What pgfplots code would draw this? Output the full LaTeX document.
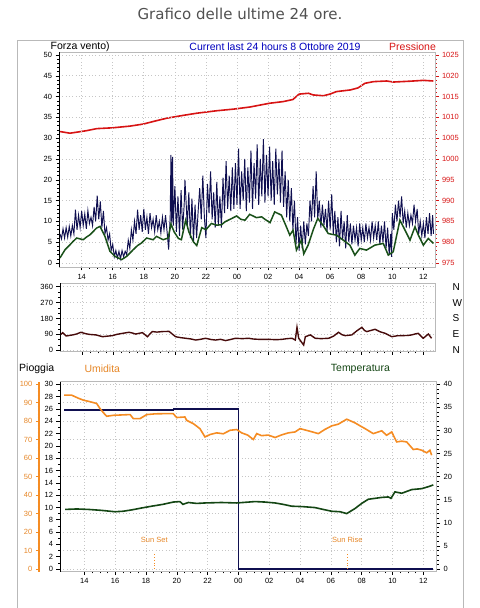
\documentclass[border=0pt]{standalone}
\usepackage{fontspec}
\setmainfont{Liberation Sans}
\newfontfamily\titlefont{DejaVu Sans}
\usepackage{pgfplots}
\pgfplotsset{compat=1.18}
\definecolor{gustc}{RGB}{15,15,80}
\definecolor{avgc}{RGB}{25,80,25}
\definecolor{presc}{RGB}{215,20,20}
\definecolor{dirc}{RGB}{70,10,10}
\definecolor{humc}{RGB}{245,140,35}
\definecolor{humlab}{RGB}{230,135,40}
\definecolor{tempc}{RGB}{20,70,20}
\definecolor{rainc}{RGB}{15,15,80}
\definecolor{titlegray}{RGB}{80,80,80}
\definecolor{curblue}{RGB}{0,0,190}
\pgfplotsset{
  panel/.style={scale only axis, anchor=south west,
    axis line style={gray!55, line width=0.6bp},
    tick style={black, line width=0.5bp},
    major tick length=3.5bp, minor tick length=1.8bp, tick align=outside,
    tick label style={font=\fontsize{7.5bp}{8bp}\selectfont},
    /pgf/number format/assume math mode=true,
    /pgf/number format/set thousands separator={},
    grid style={gray!45, dash pattern=on 0.7bp off 2.6bp, line width=0.6bp}},
  hours/.style={xtick={14,16,...,36}, xticklabels={14,16,18,20,22,00,02,04,06,08,10,12}, minor x tick num=3}
}
\begin{document}
\begin{tikzpicture}
\path[use as bounding box] (0bp,0bp) rectangle (480bp,608bp);
\draw[gray!55, line width=0.8bp] (17bp,568bp) rectangle (463bp,-5bp);
\node[font=\titlefont\fontsize{15bp}{17bp}\selectfont, text=titlegray] at (240bp,594bp) {Grafico delle ultime 24 ore.};
\node[font=\fontsize{10.5bp}{11bp}\selectfont, anchor=west, inner sep=0] at (50.5bp,561.5bp) {Forza vento)};
\node[font=\fontsize{10.5bp}{11bp}\selectfont, text=curblue, inner sep=0] at (275bp,561.5bp) {Current last 24 hours 8 Ottobre 2019};
\node[font=\fontsize{10.5bp}{11bp}\selectfont, text=presc, anchor=west, inner sep=0] at (389bp,561.5bp) {Pressione};
\node[font=\fontsize{10.5bp}{11bp}\selectfont, anchor=west, inner sep=0] at (19bp,239bp) {Pioggia};
\node[font=\fontsize{10.5bp}{11bp}\selectfont, text=humlab, anchor=west, inner sep=0] at (84.3bp,239bp) {Umidita};
\node[font=\fontsize{10.5bp}{11bp}\selectfont, text=tempc, anchor=west, inner sep=0] at (330.7bp,239bp) {Temperatura};

% ---------------- top panel: pressure ----------------
\begin{axis}[panel, at={(59bp,341bp)}, width=376bp, height=214.7bp,
  xmin=12.54, xmax=36.75, ymin=974.04, ymax=1025.65,
  axis x line=none, axis y line*=right,
  ytick={975,980,...,1025}, minor y tick num=4,
  y tick style={presc}, yticklabel style={text=presc}]
\addplot[presc, line width=1.6bp] coordinates {
(12.6,1006.6) (13.25,1006.2) (14.3,1006.8) (14.97,1007.3) (16.0,1007.5) (17.1,1007.9) (17.97,1008.4) (18.7,1009.1) (19.47,1009.8) (20.4,1010.4) (21.4,1011.0) (22.7,1011.6) (23.8,1012.0) (24.84,1012.5) (26.1,1013.4) (26.98,1013.8) (27.6,1014.3) (28.0,1015.6) (28.6,1015.8) (28.9,1015.4) (29.56,1015.2) (29.99,1015.6) (30.4,1016.2) (31.3,1016.6) (31.8,1017.1) (32.24,1018.2) (32.8,1018.6) (33.64,1018.75) (34.07,1018.5) (34.6,1018.6) (35.14,1018.7) (36.0,1018.9) (36.64,1018.75)};
\end{axis}

% ---------------- top panel: wind ----------------
\begin{axis}[panel, hours, at={(59bp,341bp)}, width=376bp, height=214.7bp,
  xmin=12.54, xmax=36.75, ymin=-0.96, ymax=50.65,
  tick pos=left, grid=major,
  ytick={0,5,...,50}, minor y tick num=4]
\draw[black, line width=0.6bp] (rel axis cs:0,0) -- (rel axis cs:0,1);
\addplot[gustc, line width=0.95bp] coordinates {
(12.6,7.0) (12.7,5.8) (12.8,8.2) (12.9,6.0) (13.0,8.5) (13.1,6.2) (13.2,8.8) (13.3,6.5) (13.4,9.0) (13.5,7.0)
(13.6,12.8) (13.7,8.0) (13.8,11.5) (13.9,8.5) (14.0,12.5) (14.1,9.0) (14.2,11.8) (14.3,8.2) (14.4,12.6) (14.5,9.5)
(14.6,11.0) (14.7,9.0) (14.8,13.5) (14.9,10.0) (15.0,16.2) (15.1,10.5) (15.2,14.8) (15.3,8.5) (15.4,12.5) (15.5,7.0)
(15.6,8.5) (15.7,5.5) (15.8,7.0) (15.9,3.0) (16.0,4.5) (16.1,1.5) (16.2,3.0) (16.3,1.2) (16.4,2.8) (16.5,1.0)
(16.6,3.0) (16.7,1.5) (16.8,2.8) (16.9,2.0) (17.0,5.5) (17.1,3.5) (17.2,8.0) (17.3,5.5) (17.4,10.0) (17.5,7.0)
(17.6,12.8) (17.7,8.0) (17.8,11.5) (17.9,7.5) (18.0,13.0) (18.1,8.0) (18.2,11.0) (18.3,7.0) (18.4,12.0) (18.5,8.5)
(18.6,10.5) (18.7,7.5) (18.8,11.5) (18.9,8.0) (19.0,10.0) (19.1,7.2) (19.2,11.0) (19.3,8.0) (19.4,11.5) (19.5,7.5)
(19.6,3.2) (19.7,11.0) (19.75,26.0) (19.8,9.5) (19.85,25.5) (19.9,9.0) (20.0,18.5) (20.1,7.5) (20.2,16.0) (20.3,6.5)
(20.4,17.5) (20.5,8.0) (20.6,14.0) (20.65,20.0) (20.8,9.0) (20.9,17.0) (21.0,6.0) (21.1,15.5) (21.2,5.2) (21.3,14.0)
(21.4,6.0) (21.5,12.5) (21.6,18.0) (21.7,10.5) (21.8,21.0) (21.9,11.0) (22.0,6.0) (22.1,19.0) (22.2,12.0) (22.3,22.0)
(22.4,10.5) (22.5,17.0) (22.6,8.5) (22.7,19.5) (22.8,9.0) (22.9,16.0) (23.0,8.5) (23.1,20.5) (23.2,12.0) (23.3,24.5)
(23.4,13.0) (23.5,21.0) (23.6,12.5) (23.7,23.0) (23.8,13.0) (23.9,24.0) (24.0,14.0) (24.1,27.5) (24.2,13.0) (24.3,22.0)
(24.4,15.0) (24.5,25.0) (24.6,12.5) (24.7,23.0) (24.8,14.5) (24.9,27.0) (25.0,13.0) (25.1,24.0) (25.2,15.5) (25.3,28.5)
(25.4,14.0) (25.5,25.0) (25.6,16.0) (25.7,29.8) (25.8,14.5) (25.9,26.0) (26.0,16.0) (26.1,28.0) (26.2,15.0) (26.3,24.5)
(26.4,14.0) (26.5,27.5) (26.6,16.5) (26.7,25.0) (26.8,14.5) (26.9,27.0) (27.0,13.5) (27.1,22.0) (27.2,11.0) (27.3,20.0)
(27.4,10.0) (27.5,18.0) (27.6,8.0) (27.7,15.0) (27.8,4.5) (27.9,11.0) (28.0,3.0) (28.1,9.0) (28.2,3.5) (28.3,10.0)
(28.4,4.5) (28.5,9.5) (28.6,6.5) (28.7,15.0) (28.8,10.0) (28.9,18.5) (29.0,11.0) (29.1,22.0) (29.2,10.5) (29.3,15.0)
(29.4,8.5) (29.5,14.0) (29.6,9.0) (29.7,13.0) (29.8,7.5) (29.9,15.0) (30.0,8.0) (30.1,16.5) (30.2,7.0) (30.3,12.5)
(30.4,5.0) (30.5,11.0) (30.6,4.0) (30.7,12.5) (30.8,5.5) (30.9,10.0) (31.0,3.5) (31.1,11.5) (31.2,5.0) (31.3,9.5)
(31.4,4.5) (31.5,9.0) (31.6,5.5) (31.7,8.5) (31.8,4.0) (31.9,9.5) (32.0,5.5) (32.1,8.5) (32.2,5.0) (32.3,9.5)
(32.4,6.0) (32.5,8.5) (32.6,5.5) (32.7,10.0) (32.8,6.0) (32.9,9.0) (33.0,5.5) (33.1,10.0) (33.2,4.5) (33.3,9.0)
(33.4,5.0) (33.5,10.0) (33.6,3.5) (33.7,8.5) (33.8,2.0) (33.9,7.0) (33.95,1.5) (34.0,12.0) (34.1,8.0) (34.2,14.0)
(34.3,10.0) (34.4,15.0) (34.5,11.0) (34.6,16.0) (34.7,9.5) (34.8,12.5) (34.9,8.5) (35.0,12.0) (35.1,9.0) (35.2,11.5)
(35.3,9.5) (35.4,14.0) (35.5,10.0) (35.6,13.0) (35.7,7.0) (35.8,10.0) (35.9,6.5) (36.0,9.5) (36.1,6.0) (36.2,11.0)
(36.3,7.0) (36.4,12.0) (36.5,6.5) (36.6,11.5) (36.65,7.0)};
\addplot[avgc, line width=1.5bp] coordinates {
(12.6,1.2) (12.93,3.2) (13.25,4.4) (13.45,5.2) (13.68,6.0) (14.1,5.6) (14.3,6.2) (14.54,6.8) (14.96,8.4) (15.18,8.8) (15.5,6.4) (15.82,2.8)
(16.14,1.6) (16.57,0.8) (16.9,1.6) (17.32,3.2) (17.6,4.2) (17.85,4.8) (18.18,6.0) (18.6,5.6) (18.82,6.4) (19.25,5.6) (19.57,6.0)
(19.75,9.4) (19.95,7.5) (20.23,5.9) (20.42,5.6) (20.7,10.3) (20.9,7.5) (21.19,5.1) (21.41,4.2) (21.73,8.5) (22.0,8.0)
(22.35,9.5) (22.69,9.1) (23.0,9.2) (23.23,9.9) (23.66,10.7) (23.98,11.3) (24.25,10.5) (24.52,10.3) (24.82,11.7) (25.25,10.9)
(25.59,11.1) (25.8,10.5) (26.13,9.7) (26.43,12.3) (26.86,11.5) (27.18,8.7) (27.4,6.7) (27.61,7.9) (27.83,3.1) (28.15,5.5)
(28.3,2.2) (28.58,4.3) (28.9,7.9) (29.2,10.7) (29.55,9.0) (29.87,7.1) (30.1,6.9) (30.41,6.7) (30.84,5.5) (31.27,4.3)
(31.59,1.9) (31.91,3.5) (32.34,3.1) (32.88,4.3) (33.42,4.7) (33.74,1.9) (34.06,2.7) (34.49,10.3) (34.82,7.9) (35.14,5.5)
(35.46,8.7) (35.68,6.7) (36.0,4.3) (36.32,5.9) (36.65,4.7)};
\end{axis}

% ---------------- middle panel: wind direction ----------------
\begin{axis}[panel, at={(60bp,256.5bp)}, width=375bp, height=68.2bp,
  xmin=12.54, xmax=36.75, ymin=-6.8, ymax=379.2,
  axis x line=none, axis y line*=right,
  ytick={0,90,180,270,360}, yticklabels={N,E,S,W,N},
  major tick length=0pt, y tick style={draw=none},
  yticklabel style={font=\fontsize{10bp}{11bp}\selectfont, xshift=14bp}]
\end{axis}
\begin{axis}[panel, at={(60bp,256.5bp)}, width=375bp, height=68.2bp,
  xmin=12.54, xmax=36.75, ymin=-6.8, ymax=379.2,
  tick pos=left, grid=major,
  xtick={14,16,...,36}, xticklabels={}, minor x tick num=3,
  ytick={0,90,180,270,360}, minor y tick num=2]
\draw[black, line width=0.6bp] (rel axis cs:0,0) -- (rel axis cs:0,1);
\addplot[dirc, line width=1.4bp] coordinates {
(12.6,90) (12.71,100) (12.93,81) (13.15,84) (13.36,87) (13.6,92) (13.89,102) (14.15,95) (14.43,90) (14.86,87) (15.29,77)
(15.6,80) (15.93,83) (16.2,90) (16.58,96) (17.0,102) (17.2,98) (17.43,92) (17.86,100) (18.18,77) (18.5,106)
(18.8,103) (19.15,106) (19.58,107) (20.0,77) (20.3,72) (20.65,68) (21.0,64) (21.3,58) (21.6,62) (21.94,68)
(22.3,61) (22.58,58) (22.9,62) (23.23,55) (23.5,60) (23.87,68) (24.3,66) (24.73,68) (25.0,64) (25.37,62)
(26.0,62) (26.5,60) (26.88,62) (27.2,66) (27.52,68) (27.73,58) (27.84,130) (27.95,68) (28.1,50) (28.27,30)
(28.38,77) (28.7,87) (29.02,68) (29.4,66) (29.88,68) (30.2,80) (30.52,102) (30.75,88) (30.95,83) (31.38,87)
(31.7,110) (32.03,130) (32.2,112) (32.35,106) (32.6,112) (32.88,119) (33.2,105) (33.53,96) (33.96,77) (34.3,82)
(34.6,83) (35.0,84) (35.24,87) (35.45,92) (35.67,96) (35.99,68) (36.32,92) (36.53,68)};
\end{axis}

% ---------------- bottom panel ----------------
\begin{axis}[panel, at={(39.3bp,36.3bp)}, width=5bp, height=190bp,
  xmin=0, xmax=1, ymin=-1.46, ymax=101.4,
  axis x line=none, axis y line*=left,
  axis line style={humc, line width=1.8bp},
  ytick={0,10,...,100}, minor y tick num=4,
  tick style={humc, line width=0.6bp},
  yticklabel style={text=humlab}]
\end{axis}
\begin{axis}[panel, at={(60bp,36.3bp)}, width=376.7bp, height=190bp,
  xmin=12.42, xmax=36.87, ymin=-0.585, ymax=40.56,
  axis x line=none, axis y line*=right,
  ytick={0,5,...,40}, minor y tick num=4]
\end{axis}
\begin{axis}[panel, at={(60bp,36.3bp)}, width=376.7bp, height=190bp,
  xmin=12.42, xmax=36.87, ymin=-1.46, ymax=101.4,
  axis line style={draw=none}, xtick=\empty,
  ytick={0,10,...,100}, yticklabels={}, y tick style={draw=none},
  ymajorgrids]
\end{axis}
\begin{axis}[panel, hours, at={(60bp,36.3bp)}, width=376.7bp, height=190bp,
  xmin=12.42, xmax=36.87, ymin=-0.44, ymax=30.42,
  tick pos=left, xmajorgrids,
  ytick={0,2,...,30}, minor y tick num=1]
\draw[black, line width=0.6bp] (rel axis cs:0,0) -- (rel axis cs:0,1);
\addplot[rainc, line width=1.6bp] coordinates {
(12.68,25.8) (19.78,25.8) (19.78,26.0) (24.0,26.0) (24.0,0) (36.65,0)};
\addplot[humc, line width=0.8bp, dotted] coordinates {(18.54,0) (18.54,2.6)};
\addplot[humc, line width=0.8bp, dotted] coordinates {(31.07,0) (31.07,2.6)};
\node[text=humlab, font=\fontsize{7.5bp}{8bp}\selectfont] at (axis cs:18.54,4.7) {Sun Set};
\node[text=humlab, font=\fontsize{7.5bp}{8bp}\selectfont] at (axis cs:31.07,4.7) {Sun Rise};
\end{axis}
\begin{axis}[panel, at={(60bp,36.3bp)}, width=376.7bp, height=190bp,
  xmin=12.42, xmax=36.87, ymin=-1.46, ymax=101.4,
  axis line style={draw=none}, xtick=\empty, ytick=\empty]
\addplot[humc, line width=1.6bp] coordinates {
(12.68,94.1) (13.18,94.1) (13.6,92.5) (13.94,91.4) (14.4,90.5) (14.8,89.6) (15.02,86.8) (15.25,84.5) (15.45,82.7) (15.88,83.2)
(16.4,83.4) (16.97,83.6) (17.18,81.4) (17.61,81.4) (18.05,83.6) (18.6,84.0) (19.2,84.1) (19.77,84.1) (19.99,82.0) (20.53,82.3)
(20.64,80.5) (21.07,78.7) (21.5,76.0) (21.83,71.5) (22.16,72.8) (22.59,73.7) (23.02,73.2) (23.46,75.1) (23.89,75.5) (24.21,73.7)
(24.6,72.5) (24.97,70.1) (25.19,73.3) (25.5,72.2) (25.94,72.5) (26.38,71.2) (26.8,72.6) (27.24,73.7) (27.68,74.2) (28.0,76.0)
(28.54,74.8) (29.19,73.3) (29.6,75.5) (30.06,77.5) (30.48,78.4) (31.03,81.1) (31.57,79.1) (31.9,77.5) (32.22,76.0) (32.75,73.3)
(33.3,74.8) (33.62,72.4) (33.95,74.2) (34.27,68.8) (34.6,69.2) (34.92,68.8) (35.35,64.7) (35.6,65.0) (35.9,64.3) (36.22,62.9)
(36.43,64.3) (36.54,61.6)};
\end{axis}
\begin{axis}[panel, at={(60bp,36.3bp)}, width=376.7bp, height=190bp,
  xmin=12.42, xmax=36.87, ymin=-0.585, ymax=40.56,
  axis line style={draw=none}, xtick=\empty, ytick=\empty]
\addplot[tempc, line width=1.6bp] coordinates {
(12.75,12.9) (13.5,13.0) (14.26,12.9) (15.1,12.7) (15.99,12.4) (16.5,12.5) (17.08,12.8) (17.7,13.2) (18.37,13.6) (19.1,14.0)
(19.78,14.5) (20.2,14.6) (20.4,14.0) (20.75,14.4) (21.3,14.2) (21.83,14.3) (22.9,14.4) (23.89,14.3) (25.08,14.6) (25.7,14.5)
(26.38,14.3) (26.9,14.0) (27.46,13.6) (28.2,13.5) (28.97,13.3) (29.5,12.9) (30.06,12.5) (30.6,12.4) (31.03,12.0) (31.57,13.1)
(32.0,14.2) (32.43,15.1) (33.3,15.5) (33.73,15.6) (33.9,15.3) (34.16,16.7) (34.6,16.4) (35.25,17.2) (35.9,17.4) (36.3,17.8) (36.65,18.2)};
\end{axis}
\end{tikzpicture}
\end{document}
